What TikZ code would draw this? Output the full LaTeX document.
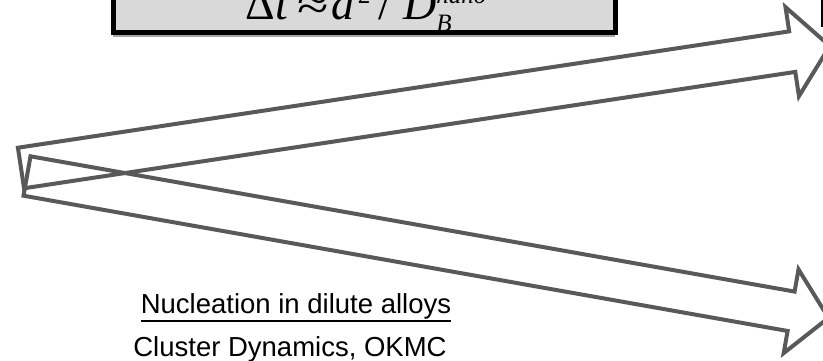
\documentclass[tikz,border=0pt]{standalone}
\usepackage{fontspec}
\setmainfont{Liberation Sans}
\newfontfamily\tms{Liberation Serif}
\usetikzlibrary{calc}

\definecolor{arrowgray}{HTML}{595959}
\definecolor{boxgray}{HTML}{D9D9D9}

% outlined block arrow: tail centre, angle, length, shaft half width, head half width
\newcommand{\blockarrow}[5]{%
  \begin{scope}[shift={#1},rotate=#2]
    \draw[arrowline] (0,-#4) -- ({#3-38},-#4) -- ({#3-38},-#5) -- (#3,0)
      -- ({#3-38},#5) -- ({#3-38},#4) -- (0,#4) -- cycle;
  \end{scope}}

\newcommand{\smallit}[1]{{\fontsize{25}{25}\selectfont\itshape #1}}

\begin{document}
\begin{tikzpicture}[x=1pt,y=-1pt,
  arrowline/.style={draw=arrowgray,line width=4pt,line join=miter},
  eqbox/.style={draw=black,line width=5pt,fill=boxgray},
  bigtext/.style={inner sep=0pt,font=\fontsize{27.5}{30}\selectfont}]
\useasboundingbox (0,0) rectangle (823,361);
\clip (0,0) rectangle (823,361);

% time step box
\fill[gray!70] (112.5,-30) rectangle (614.5,37.5);
\node[eqbox,anchor=south west,minimum width=502,minimum height=80,inner sep=0pt] (box) at (110.5,35.5) {};
\node[anchor=base west,inner sep=0pt,outer sep=0pt,font=\fontsize{46}{50}\tms] (dt) at (245,20)
  {Δ\kern1pt\textit{t}\kern8pt\scalebox{1.25}[1]{≈}\kern3pt\textit{d}\kern3pt\raisebox{17pt}{\smallit{\upshape 2}}\kern8pt/\kern12pt\textit{D}\rlap{\raisebox{-12pt}{\smallit{B}}}\raisebox{16pt}{\smallit{nano}}};

% box on the right
\draw[line width=4pt] (823,-30) rectangle (900,25);

% arrows
\blockarrow{(21,168)}{8.58}{818}{20.5}{45}
\blockarrow{(27,176)}{-10.04}{814}{20}{42.5}

% text
\node[bigtext,anchor=base] (nucl) at (296,313) {Nucleation in dilute alloys};
\draw[line width=2pt] ([yshift=-8pt]nucl.base west) -- ([yshift=-8pt]nucl.base east);
\node[bigtext,anchor=base] (cd) at (290,356) {Cluster Dynamics, OKMC};
\end{tikzpicture}
\end{document}
